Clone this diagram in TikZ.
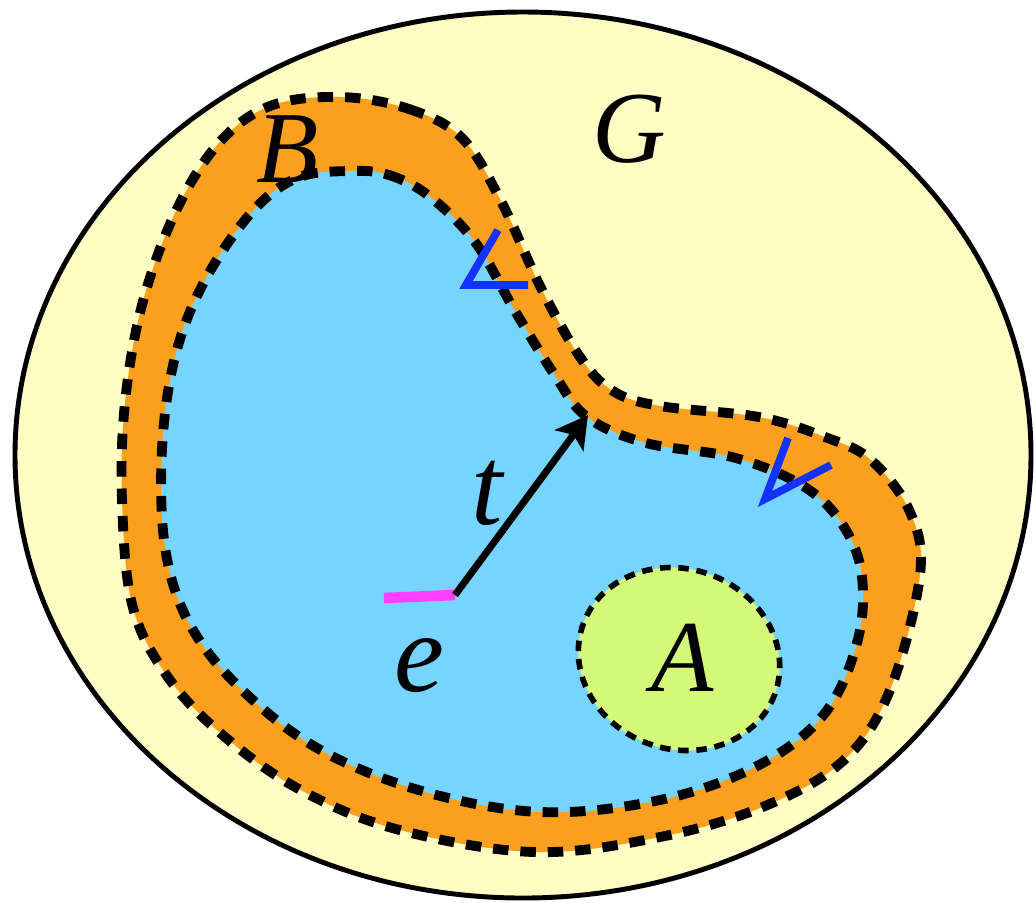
\documentclass[tikz,border=0pt]{standalone}
\usepackage{fontspec}
\setmainfont{Liberation Serif}
\usetikzlibrary{arrows.meta, positioning, calc}
\definecolor{gyellow}{RGB}{255, 252, 196}
\definecolor{borange}{RGB}{250, 160, 30}
\definecolor{eblue}{RGB}{118, 212, 255}
\definecolor{agreen}{RGB}{212, 248, 120}
\definecolor{vblue}{RGB}{20, 50, 255}
\definecolor{emag}{RGB}{255, 64, 255}

\begin{document}
\begin{tikzpicture}[x=0.01cm, y=-0.01cm,
  bnd/.style={draw=black, line width=2.8pt, dash pattern=on 4.4pt off 3.4pt},
  abnd/.style={draw=black, line width=1.6pt, dash pattern=on 3pt off 2.2pt},
  lbl/.style={font=\fontsize{29}{29}\selectfont\itshape, inner sep=0pt},
  sml/.style={font=\fontsize{32}{32}\selectfont\itshape, inner sep=0pt},
  arr/.style={-{Stealth[length=9pt, width=10pt, inset=2pt]}, line width=2pt},
  vmk/.style={draw=vblue, line width=2.2pt},
]
  \useasboundingbox (0,0) rectangle (1034,902);
  % universe G
  \draw[fill=gyellow, line width=1.4pt] (523,455) ellipse [x radius=508, y radius=443];
  % orange band B
  \path[bnd, fill=borange] plot[smooth cycle, tension=0.6] coordinates {
    (340,97) (409,109) (462,138) (501,201) (541,288) (580,357) (613,391)
    (660,406) (759,417) (825,437) (871,460) (910,512) (920,575) (890,690)
    (844,760) (765,806) (660,837) (534,852) (396,829) (297,788) (218,731)
    (165,673) (132,604) (122,500) (125,403) (142,305) (175,213) (218,144)
    (270,106)};
  % blue region e + tB
  \path[bnd, fill=eblue] plot[smooth cycle, tension=0.6] coordinates {
    (350,171) (389,175) (429,196) (475,242) (515,311) (554,374) (587,417)
    (646,443) (732,457) (798,483) (838,518) (861,570) (858,639) (825,713)
    (759,765) (660,800) (541,812) (422,791) (317,748) (237,685) (188,621)
    (165,547) (162,449) (175,357) (204,282) (251,213) (297,178)};
  % set A
  \path[abnd, fill=agreen] (679,659) ellipse [x radius=102, y radius=90, rotate=-20];
  % labels
  \node[lbl] (labB) at (288,149) {B};
  \node[lbl] (labG) at (629,129) {G};
  \node[sml] (labT) at (487,493) {t};
  \node[sml] (labE) at (419,666) {e};
  \node[lbl] (labA) at (683,658) {A};
  % vector t
  \coordinate (eorg) at (455,595);
  \coordinate (etip) at (588,415);
  \coordinate (emag) at (384,598);
  \draw[emag, line width=3pt] (emag) -- (eorg);
  \draw[arr] (eorg) -- (etip);
  % cone marks
  \coordinate (v1a) at (498,230);
  \coordinate (v1b) at (466,285);
  \coordinate (v1c) at (528,285);
  \coordinate (v2a) at (788,438);
  \coordinate (v2b) at (765,499);
  \coordinate (v2c) at (831,465);
  \draw[vmk] (v1a) -- (v1b) -- (v1c);
  \draw[vmk] (v2a) -- (v2b) -- (v2c);
\end{tikzpicture}
\end{document}
